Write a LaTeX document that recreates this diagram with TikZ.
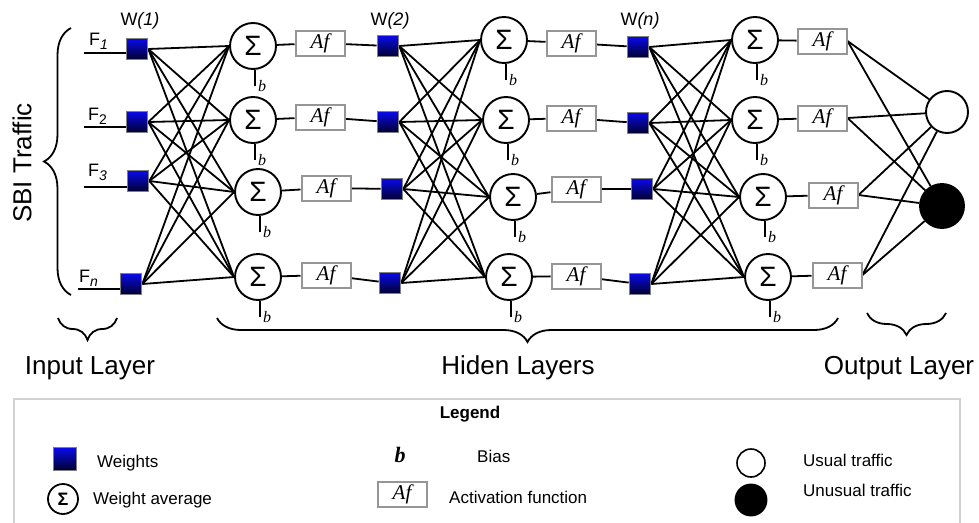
\documentclass[tikz,border=0pt]{standalone}
\usepackage{fontspec}
\setmainfont{Liberation Sans}
\newfontfamily\seriffam{Liberation Serif}
\usetikzlibrary{decorations.pathreplacing,backgrounds}
\definecolor{wtop}{RGB}{10,10,235}
\definecolor{wbot}{RGB}{0,0,45}
\definecolor{afgray}{RGB}{150,150,150}
\definecolor{leggray}{RGB}{210,210,210}
\newcommand{\fs}[1]{\fontsize{#1}{#1}\selectfont}
\begin{document}
\begin{tikzpicture}[x=1pt,y=-1pt,
  link/.style={line width=1.8pt},
  wsq/.style={draw=gray,line width=1.6pt,top color=wtop,bottom color=wbot,
    minimum size=21pt,inner sep=0pt},
  sig/.style={circle,draw,line width=1.9pt,fill=white,minimum size=46pt,
    inner sep=0pt,font=\fs{28}},
  afbox/.style={draw=afgray,line width=2pt,fill=white,minimum width=49pt,
    minimum height=25pt,inner sep=0pt,font=\fs{21}\seriffam\itshape},
  outw/.style={circle,draw,line width=1.9pt,fill=white,minimum size=42pt,inner sep=0pt},
  outb/.style={circle,draw,line width=1.9pt,fill=black,minimum size=44pt,inner sep=0pt},
  flab/.style={anchor=base west,inner sep=0pt,font=\fs{18}},
  wlab/.style={anchor=base,inner sep=0pt,font=\fs{18}},
  blab/.style={anchor=base west,inner sep=0pt,font=\fs{16}\seriffam\itshape},
  big/.style={anchor=base,inner sep=0pt,font=\fs{26}},
  legtxt/.style={anchor=base west,inner sep=0pt,font=\fs{17}},
  brc/.style={decorate,line width=1.8pt}]
\useasboundingbox (0,0) rectangle (979,522);

% weight squares
\node[wsq] (w11) at (137,49) {};
\node[wsq] (w12) at (137,122) {};
\node[wsq] (w13) at (138,181) {};
\node[wsq] (w14) at (131,284) {};
\node[wsq] (w21) at (388,46) {};
\node[wsq] (w22) at (388,122) {};
\node[wsq] (w23) at (392,189) {};
\node[wsq] (w24) at (390,283) {};
\node[wsq] (w31) at (638,47) {};
\node[wsq] (w32) at (638,123) {};
\node[wsq] (w33) at (642,189) {};
\node[wsq] (w34) at (640,284) {};

% summation neurons
\node[sig] (s11) at (253,46) {Σ};
\node[sig] (s12) at (253,120) {Σ};
\node[sig] (s13) at (258,192) {Σ};
\node[sig] (s14) at (258,277) {Σ};
\node[sig] (s21) at (504,40) {Σ};
\node[sig] (s22) at (506,120) {Σ};
\node[sig] (s23) at (513,197) {Σ};
\node[sig] (s24) at (509,277) {Σ};
\node[sig] (s31) at (755,40) {Σ};
\node[sig] (s32) at (755,120) {Σ};
\node[sig] (s33) at (763,197) {Σ};
\node[sig] (s34) at (768,277) {Σ};

% activation functions
\node[afbox] (a11) at (320,43) {Af};
\node[afbox] (a12) at (320,117) {Af};
\node[afbox] (a13) at (326,188) {Af};
\node[afbox] (a14) at (326,275) {Af};
\node[afbox] (a21) at (571,43) {Af};
\node[afbox] (a22) at (571,118) {Af};
\node[afbox] (a23) at (576,189) {Af};
\node[afbox] (a24) at (576,276) {Af};
\node[afbox] (a31) at (822,41) {Af};
\node[afbox] (a32) at (822,118) {Af};
\node[afbox] (a33) at (833,195) {Af};
\node[afbox] (a34) at (837,275) {Af};

% output neurons
\node[outw] (ow) at (947,112) {};
\node[outb] (ob) at (942,206) {};

% input feature lines
\coordinate (f1) at (84,53);
\coordinate (f2) at (84,127);
\coordinate (f3) at (84,187);
\coordinate (f4) at (78,289);

\begin{pgfonlayer}{background}
  \draw[link] (f1) -- (f1 -| w11.west);
  \draw[link] (f2) -- (f2 -| w12.west);
  \draw[link] (f3) -- (f3 -| w13.west);
  \draw[link] (f4) -- (f4 -| w14.west);
  \foreach \c in {1,2,3}
    \foreach \i in {1,...,4}{
      \foreach \j in {1,...,4}
        \draw[link] (w\c\i.east) -- (s\c\j.west);
      \draw[link] (s\c\i) -- (a\c\i);
      \draw[link] (s\c\i.south) ++(2,0) coordinate (bt\c\i) -- ++(0,16) coordinate (bb\c\i);
    }
  \foreach \c/\d in {1/2,2/3}
    \foreach \i in {1,...,4}
      \draw[link] (a\c\i) -- (w\d\i);
  \foreach \i in {1,...,4}{
    \draw[link] (a3\i.east) -- (ow);
    \draw[link] (a3\i.east) -- (ob);
  }
\end{pgfonlayer}

% bias labels
\foreach \c in {1,2,3}
  \foreach \i in {1,...,4}
    \node[blab] at ([xshift=3pt,yshift=-6pt]bb\c\i) {b};

% feature and weight labels
\node[flab] at (89,45) {F\raisebox{-4pt}{\fs{14}\itshape 1}};
\node[flab] at (88,120) {F\raisebox{-4pt}{\fs{14}2}};
\node[flab] at (88,176) {F\raisebox{-4pt}{\fs{14}\itshape 3}};
\node[flab] at (79,282) {F\raisebox{-4pt}{\fs{14}\itshape n}};
\node[wlab] at (140,25) {W\textit{(1)}};
\node[wlab] at (390,25) {W\textit{(2)}};
\node[wlab] at (640,25) {W\textit{(n)}};

% braces and layer names
\draw[brc,decoration={brace,amplitude=27pt}] (71,295) -- (71,28);
\node[font=\fs{26},rotate=90] at (22,163) {SBI Traffic};
\draw[brc,decoration={brace,amplitude=22pt}] (117,318) -- (58,318);
\draw[brc,decoration={brace,amplitude=24pt}] (838,318) -- (217,318);
\draw[brc,decoration={brace,amplitude=22pt}] (946,313) -- (867,313);
\node[big] at (90,374) {Input Layer};
\node[big] at (518,374) {Hiden Layers};
\node[big] at (899,374) {Output Layer};

% legend
\draw[leggray,line width=2pt] (14,525) -- (14,399) -- (960,399) -- (960,525);
\node[anchor=base,font=\fs{17}\bfseries] at (470,418) {Legend};
\node[wsq,minimum size=23pt] (lw) at (65,459) {};
\node[legtxt] at (97,467) {Weights};
\node[circle,draw,line width=1.8pt,minimum size=30pt,inner sep=0pt,font=\fs{18}\bfseries] (ls) at (63,499) {Σ};
\node[legtxt] at (93,504) {Weight average};
\node[anchor=base,font=\fs{22}\seriffam\bfseries\itshape] at (400,462) {b};
\node[legtxt] at (477,462) {Bias};
\node[afbox] (la) at (402,494) {Af};
\node[legtxt] at (449,503) {Activation function};
\node[outw,minimum size=28pt,line width=1.6pt] (low) at (751,463) {};
\node[outb,minimum size=31pt] (lob) at (751,500) {};
\node[legtxt] at (803,466) {Usual traffic};
\node[legtxt] at (803,496) {Unusual traffic};
\end{tikzpicture}
\end{document}
